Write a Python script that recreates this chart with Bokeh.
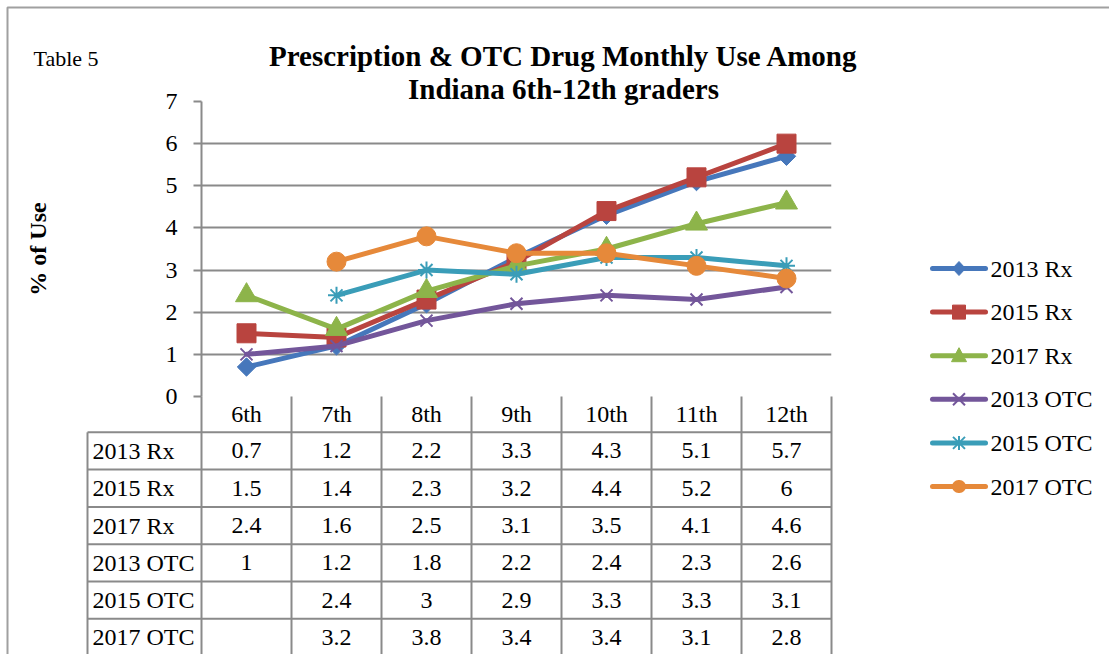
import numpy as np
from bokeh.plotting import figure
from bokeh.models import FactorRange, Range1d, FixedTicker, ColumnDataSource
from bokeh.core.properties import value
from bokeh.embed import file_html
from bokeh.resources import INLINE

# ---- data -------------------------------------------------------------
GRADES = ["6th", "7th", "8th", "9th", "10th", "11th", "12th"]
SERIES = ["2013 Rx", "2015 Rx", "2017 Rx", "2013 OTC", "2015 OTC", "2017 OTC"]
RX_2013 = [0.7, 1.2, 2.2, 3.3, 4.3, 5.1, 5.7]
RX_2015 = [1.5, 1.4, 2.3, 3.2, 4.4, 5.2, 6]
RX_2017 = [2.4, 1.6, 2.5, 3.1, 3.5, 4.1, 4.6]
OTC_2013 = [1, 1.2, 1.8, 2.2, 2.4, 2.3, 2.6]
OTC_2015 = [None, 2.4, 3, 2.9, 3.3, 3.3, 3.1]
OTC_2017 = [None, 3.2, 3.8, 3.4, 3.4, 3.1, 2.8]
Y_TICKS = [0, 1, 2, 3, 4, 5, 6, 7]
TITLE_LINES = ["Prescription & OTC Drug Monthly Use Among",
               "Indiana 6th-12th graders"]

VALUES = [RX_2013, RX_2015, RX_2017, OTC_2013, OTC_2015, OTC_2017]

# ---- page geometry (pixels) -------------------------------------------
W, H = 1109, 654
FRAME_L, FRAME_R, FRAME_T, FRAME_B = 201, 831, 101, 396
COL_PX = (FRAME_R - FRAME_L) / len(GRADES)
UNIT_PX = (FRAME_B - FRAME_T) / (Y_TICKS[-1] - Y_TICKS[0])
LEGEND_X0, LEGEND_X1, LEGEND_TOP, LEGEND_STEP = 932, 985, 268, 43.6


def px_x(px):
    """canvas x pixel -> synthetic x coordinate of the grade axis"""
    return (px - FRAME_L) / COL_PX


def px_y(py):
    """canvas y pixel -> value on the % axis"""
    return (FRAME_B - py) / UNIT_PX


# ---- styling ----------------------------------------------------------
FONT = "Liberation Serif"
GRAY = "#8a8a8a"
COLORS = ["#4677BB", "#B9443F", "#8DB44A", "#73569A", "#3A9DB8", "#E6893A"]
MARKERS = ["square", "square", "triangle", "x", "asterisk", "circle"]
ANGLES = [np.pi / 4, 0, 0, 0, 0, 0]
SIZES = [13, 19, 22, 17, 17, 19]

p = figure(width=W, height=H, output_backend="svg", toolbar_location=None,
           tools="", x_range=FactorRange(factors=GRADES, range_padding=0),
           y_range=Range1d(Y_TICKS[0], Y_TICKS[-1]),
           min_border_left=FRAME_L, min_border_right=W - FRAME_R,
           min_border_top=FRAME_T, min_border_bottom=H - FRAME_B)
p.background_fill_color = "white"
p.border_fill_color = "white"
p.outline_line_color = None
p.xaxis.visible = False
p.xgrid.visible = False

p.ygrid.grid_line_color = GRAY
p.ygrid.grid_line_width = 2
p.yaxis.ticker = FixedTicker(ticks=Y_TICKS, minor_ticks=[])
p.yaxis.axis_line_color = GRAY
p.yaxis.axis_line_width = 2
p.yaxis.major_tick_line_color = GRAY
p.yaxis.major_tick_line_width = 2
p.yaxis.major_tick_out = 8
p.yaxis.major_tick_in = 0
p.yaxis.minor_tick_line_color = None
p.yaxis.major_label_text_font = FONT
p.yaxis.major_label_text_font_size = "24px"
p.yaxis.major_label_text_color = "black"
p.yaxis.major_label_standoff = 16
p.yaxis.axis_label = "% of Use"
p.yaxis.axis_label_text_font = FONT
p.yaxis.axis_label_text_font_style = "bold"
p.yaxis.axis_label_text_font_size = "24px"
p.yaxis.axis_label_text_color = "black"
p.yaxis.axis_label_standoff = 112

# ---- series -----------------------------------------------------------
for vals, color, marker, ang, size in zip(VALUES, COLORS, MARKERS, ANGLES, SIZES):
    y = [np.nan if v is None else v for v in vals]
    src = ColumnDataSource(dict(x=GRADES, y=y))
    p.line("x", "y", source=src, line_color=color, line_width=5,
           line_join="round", line_cap="round")
    if marker in ("x", "asterisk"):
        p.scatter("x", "y", source=src, marker=marker, size=size,
                  line_color=color, line_width=2)
    else:
        p.scatter("x", "y", source=src, marker=marker, size=size, angle=ang,
                  fill_color=color, line_color=color, line_width=1)

# ---- legend -----------------------------------------------------------
# key symbols as small outlines, offsets in pixels around the key centre
KEY_SHAPES = {
    "diamond": [(0, -7), (6.5, 0), (0, 7), (-6.5, 0)],
    "square": [(-6.5, -7), (6.5, -7), (6.5, 7), (-6.5, 7)],
    "triangle": [(0, -8), (7.5, 6), (-7.5, 6)],
}
KEY_STROKES = {
    "x": [((-6, -6), (6, 6)), ((-6, 6), (6, -6))],
    "asterisk": [((-6, -6), (6, 6)), ((-6, 6), (6, -6)), ((0, -7), (0, 7))],
}
KEY_KIND = ["diamond", "square", "triangle", "x", "asterisk", "circle"]

kx = (LEGEND_X0 + LEGEND_X1) / 2
for k, (name, color, kind) in enumerate(zip(SERIES, COLORS, KEY_KIND)):
    cy_px = LEGEND_TOP + k * LEGEND_STEP
    ly = px_y(cy_px)
    p.line(x=[px_x(LEGEND_X0), px_x(LEGEND_X1)], y=[ly, ly], line_color=color,
           line_width=5, line_cap="round", level="overlay")
    if kind in KEY_SHAPES:
        pts = KEY_SHAPES[kind]
        p.patch(x=[px_x(kx + dx) for dx, _ in pts],
                y=[px_y(cy_px + dy) for _, dy in pts],
                fill_color=color, line_color=color, line_width=1, level="overlay")
    elif kind in KEY_STROKES:
        st = KEY_STROKES[kind]
        p.segment(x0=[px_x(kx + a[0]) for a, _ in st], y0=[px_y(cy_px + a[1]) for a, _ in st],
                  x1=[px_x(kx + b[0]) for _, b in st], y1=[px_y(cy_px + b[1]) for _, b in st],
                  line_color=color, line_width=2, level="overlay")
    else:
        p.segment(x0=[px_x(kx - 0.5)], y0=[ly], x1=[px_x(kx + 0.5)], y1=[ly],
                  line_color=color, line_width=13, line_cap="round", level="overlay")
    p.text(x=[px_x(LEGEND_X1 + 5)], y=[ly], text=[name], text_align="left",
           text_baseline="middle", text_font=value(FONT), text_font_size="24px",
           text_color="black", level="overlay")

# ---- data table under the chart ---------------------------------------
n = len(GRADES)
HEADER_H = 0.85
ROW_H = 0.885
LABEL_COL = px_x(87)  # left edge of the row-label column
row_edges = [-(HEADER_H + k * ROW_H) for k in range(len(SERIES) + 1)]

# vertical rules
xs0 = [float(i) for i in range(n + 1)] + [LABEL_COL]
ys0 = [0.0] * (n + 1) + [row_edges[0]]
xs1 = list(xs0)
ys1 = [row_edges[-1]] * (n + 2)
# horizontal rules
for yv in row_edges:
    xs0.append(LABEL_COL); ys0.append(yv); xs1.append(float(n)); ys1.append(yv)
p.segment(x0=xs0, y0=ys0, x1=xs1, y1=ys1, line_color=GRAY, line_width=2,
          level="overlay")

centers = [i + 0.5 for i in range(n)]
p.text(x=centers, y=[-HEADER_H / 2] * n, text=GRADES, text_align="center",
       text_baseline="middle", text_font=value(FONT), text_font_size="24px",
       text_color="black", level="overlay")

lab_y = [row_edges[k] - ROW_H / 2 for k in range(len(SERIES))]
p.text(x=[LABEL_COL] * len(SERIES), y=lab_y, text=SERIES, x_offset=5,
       text_align="left", text_baseline="middle", text_font=value(FONT),
       text_font_size="24px", text_color="black", level="overlay")

cx, cy, ct = [], [], []
for k, vals in enumerate(VALUES):
    for i, v in enumerate(vals):
        if v is None:
            continue
        cx.append(centers[i]); cy.append(lab_y[k]); ct.append(f"{v:g}")
p.text(x=cx, y=cy, text=ct, text_align="center", text_baseline="middle",
       text_font=value(FONT), text_font_size="24px", text_color="black",
       level="overlay")

# ---- headings and page border -----------------------------------------
p.text(x=[px_x(563)] * 2, y=[px_y(55), px_y(88)], text=TITLE_LINES,
       text_align="center", text_baseline="alphabetic", text_font=value(FONT),
       text_font_style="bold", text_font_size="29px", text_color="black",
       level="overlay")
p.text(x=[px_x(33)], y=[px_y(58)], text=["Table 5"], text_align="left",
       text_baseline="alphabetic", text_font=value(FONT),
       text_font_size="22px", text_color="black", level="overlay")
p.line(x=[px_x(7), px_x(7), px_x(W + 50)], y=[px_y(H + 50), px_y(7), px_y(7)],
       line_color="#a0a0a0", line_width=2, level="overlay")

open("out.html", "w").write(file_html(p, INLINE))
